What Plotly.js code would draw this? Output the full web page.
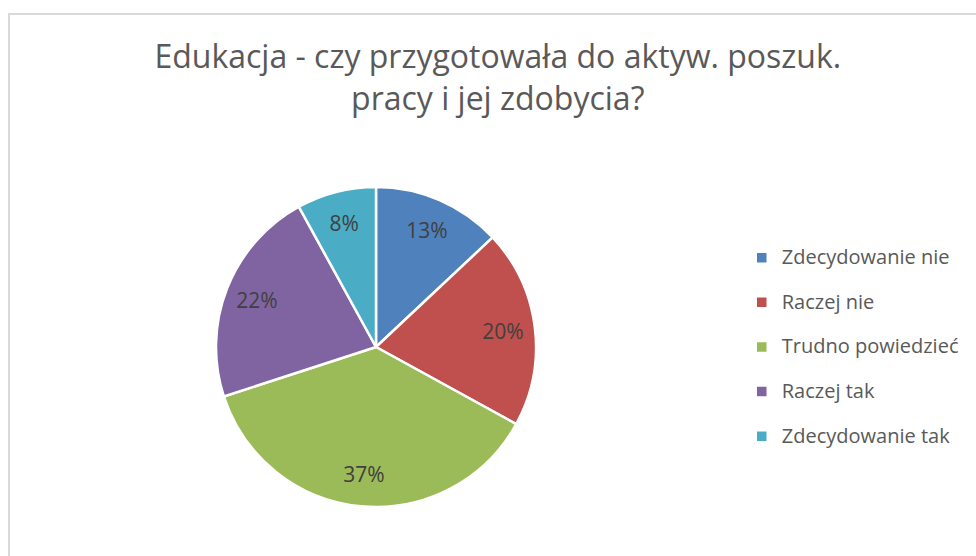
<!DOCTYPE html>
<html>
<head>
<meta charset="utf-8">
<script src="https://cdn.plot.ly/plotly-3.0.1.min.js"></script>
<style>
html,body{margin:0;padding:0;background:#fff;}
#chart{width:976px;height:556px;}
</style>
</head>
<body>
<div id="chart"></div>
<script>
// ---- data ----
var categories = ["Zdecydowanie nie", "Raczej nie", "Trudno powiedzieć", "Raczej tak", "Zdecydowanie tak"];
var shares = [13, 20, 37, 22, 8];
var sliceColors = ["#4F81BD", "#C0504D", "#9BBB59", "#8064A2", "#4BACC6"];
var chartTitle = "Edukacja - czy przygotowała do aktyw. poszuk.<br>pracy i jej zdobycia?";

var legendLabels = categories.map(function (c) {
  return '<span style="font-size:20px;baseline-shift:6px">' + c + '</span>';
});

var dom = {x: [0.2213, 0.5492], y: [0.0881, 0.6637]};

var mainPie = {
  type: 'pie',
  labels: legendLabels,
  values: shares,
  sort: false,
  direction: 'clockwise',
  rotation: 0,
  domain: dom,
  marker: {colors: sliceColors, line: {color: '#ffffff', width: 2.5}},
  textinfo: 'none',
  hoverinfo: 'none',
  showlegend: true
};

var labelRing = {
  type: 'pie',
  labels: legendLabels,
  values: shares,
  sort: false,
  direction: 'clockwise',
  rotation: 0,
  hole: 0.6,
  domain: dom,
  marker: {colors: categories.map(function(){return 'rgba(0,0,0,0)';}), line: {width: 0}},
  textinfo: 'percent',
  textposition: 'inside',
  insidetextorientation: 'horizontal',
  textfont: {family: 'Open Sans, sans-serif', size: 21, color: '#404040'},
  hoverinfo: 'none',
  showlegend: false
};

var layout = {
  width: 976,
  height: 556,
  margin: {l: 0, r: 0, t: 0, b: 0},
  paper_bgcolor: '#ffffff',
  font: {family: 'Open Sans, sans-serif', color: '#595959'},
  title: {
    text: chartTitle,
    font: {family: 'Open Sans, sans-serif', size: 32, color: '#595959'},
    x: 0.51, xanchor: 'center',
    y: 0.877, yanchor: 'top'
  },
  legend: {
    x: 0.76, xanchor: 'left',
    y: 0.376, yanchor: 'middle',
    font: {family: 'Open Sans, sans-serif', size: 32, color: '#595959'},
    bgcolor: 'rgba(0,0,0,0)'
  },
  shapes: [{
    type: 'rect', xref: 'paper', yref: 'paper',
    x0: 0.0092, x1: 1.05, y0: -0.05, y1: 0.9748,
    line: {color: '#d9d9d9', width: 2}
  }]
};

Plotly.newPlot('chart', [mainPie, labelRing], layout, {displayModeBar: false, staticPlot: true});
</script>
</body>
</html>
